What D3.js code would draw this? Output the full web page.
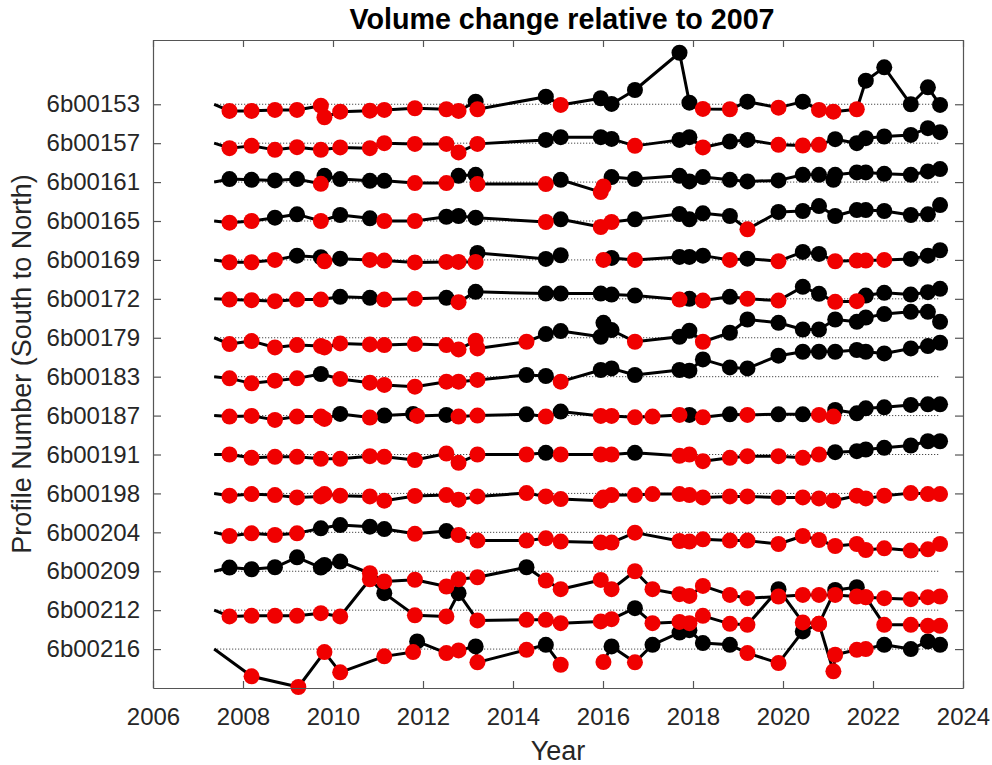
<!DOCTYPE html>
<html><head><meta charset="utf-8">
<script src="https://cdn.jsdelivr.net/npm/d3@7"></script>
<style>
body{margin:0;background:#fff;}
svg{display:block;font-family:"Liberation Sans",Arial,Helvetica,sans-serif;}
</style>
</head><body>
<svg id="chart" width="992" height="765"></svg>
<script>
// ---------------- DATA ----------------
const profiles = ["6b00153","6b00157","6b00161","6b00165","6b00169","6b00172","6b00179",
  "6b00183","6b00187","6b00191","6b00198","6b00204","6b00209","6b00212","6b00216"];
const xTicks = [2006,2008,2010,2012,2014,2016,2018,2020,2022,2024];
const baselineStart = 2007.36, baselineEnd = 2023.45;
const profileSpacing = 39;           // volume units between stacked profiles
// each entry: [year, volume change, marker ("r" red, "k" black, "" none)]; null value = gap
const p153 = [[2007.36,0,""],[2007.70,-6.7,"r"],[2008.19,-6.7,"r"],[2008.71,-5.7,"r"],[2009.20,-5.7,"r"],[2009.73,-1.4,"r"],[2009.81,-13,"r"],[2010.16,-7.4,"r"],[2010.82,-6.4,"r"],[2011.14,-5.7,"r"],[2011.82,-4,"r"],[2012.52,-5,"r"],[2012.79,-6.7,"r"],[2013.17,2.6,"k"],[2013.21,-5,"r"],[2014.73,7.6,"k"],[2015.06,-0.7,"r"],[2015.95,6,"k"],[2016.19,0.3,"k"],[2016.71,14.3,"k"],[2017.70,51.6,"k"],[2017.92,1.6,"k"],[2018.22,-4.7,"r"],[2018.82,-5,"r"],[2019.21,2.6,"k"],[2019.90,-3.4,"r"],[2020.44,2.6,"k"],[2020.80,-5.7,"r"],[2021.12,-7.4,"r"],[2021.64,-5,"r"],[2021.84,23.6,"k"],[2022.25,37,"k"],[2022.84,0,"k"],[2023.22,17,"k"],[2023.49,-0.7,"k"]];
const p157 = [[2007.36,0,""],[2007.70,-5,"r"],[2008.19,-2.7,"r"],[2008.71,-6.7,"r"],[2009.20,-4,"r"],[2009.73,-6.7,"r"],[2010.16,-4.3,"r"],[2010.82,-5,"r"],[2011.14,0,"r"],[2011.82,-0.7,"r"],[2012.52,-0.7,"r"],[2012.79,-9.3,"r"],[2013.21,-0.7,"r"],[2014.73,3.3,"k"],[2015.06,6,"k"],[2015.95,6,"k"],[2016.19,4.3,"k"],[2016.71,-2.7,"r"],[2017.70,3.3,"k"],[2017.92,6,"k"],[2018.22,-4.3,"r"],[2018.82,1.7,"k"],[2019.21,3.3,"k"],[2019.90,-1.7,"r"],[2020.44,-2.3,"r"],[2020.80,-1.7,"r"],[2021.16,4,"k"],[2021.64,0,"k"],[2021.84,5,"k"],[2022.25,6.7,"k"],[2022.84,8.3,"k"],[2023.22,15,"k"],[2023.49,11,"k"]];
const p161 = [[2007.36,0,""],[2007.70,3,"k"],[2008.19,2.3,"k"],[2008.71,1.7,"k"],[2009.20,3,"k"],[2009.73,-1.7,"r"],[2009.81,6.3,"k"],[2010.16,3,"k"],[2010.82,1.3,"k"],[2011.14,1.3,"k"],[2011.82,-1,"r"],[2012.52,-1,"r"],[2012.79,6.3,"k"],[2013.17,7.3,"k"],[2013.21,-2,"r"],[2014.73,-2,"r"],[2015.06,2.3,"k"],[2015.95,-10,"r"],[2016.01,-4.3,"r"],[2016.19,5,"k"],[2016.71,3,"k"],[2017.70,6.3,"k"],[2017.92,0.7,"k"],[2018.22,5,"k"],[2018.82,2.3,"k"],[2019.21,0.7,"k"],[2019.90,1.7,"k"],[2020.44,7.3,"k"],[2020.80,7.3,"k"],[2021.12,2.3,"k"],[2021.16,7.3,"k"],[2021.64,9.7,"k"],[2021.84,9.7,"k"],[2022.25,8.3,"k"],[2022.84,7.3,"k"],[2023.22,10.7,"k"],[2023.49,13,"k"]];
const p165 = [[2007.36,0,""],[2007.70,-1.7,"r"],[2008.19,0,"r"],[2008.71,3.3,"k"],[2009.20,6.7,"k"],[2009.73,0,"r"],[2010.16,6,"k"],[2010.82,2.7,"k"],[2011.14,0,"r"],[2011.82,0,"r"],[2012.52,4.3,"k"],[2012.79,5,"k"],[2013.17,3.3,"k"],[2014.73,-1,"r"],[2015.06,1.7,"k"],[2015.95,-6,"r"],[2016.19,-1,"r"],[2016.71,1.7,"k"],[2017.70,7,"k"],[2017.92,1.7,"k"],[2018.22,7.7,"k"],[2018.82,5,"k"],[2019.21,-8.3,"r"],[2019.90,9,"k"],[2020.44,10,"k"],[2020.80,15,"k"],[2021.16,5,"k"],[2021.64,11,"k"],[2021.84,11,"k"],[2022.25,10,"k"],[2022.84,6,"k"],[2023.22,6.7,"k"],[2023.49,16,"k"]];
const p169 = [[2007.36,0,""],[2007.70,-2.3,"r"],[2008.19,-2.3,"r"],[2008.71,0,"r"],[2009.20,4.3,"k"],[2009.73,2.7,"k"],[2009.81,-1.3,"r"],[2010.16,1.3,"k"],[2010.82,0,"r"],[2011.14,-0.7,"r"],[2011.82,-2.5,"r"],[2012.52,-2,"r"],[2012.79,-2,"r"],[2013.17,-2,"r"],[2013.21,7,"k"],[2014.73,1,"k"],[2015.06,4.7,"k"],[2015.95,null,""],[2016.01,0,"r"],[2016.19,2,"k"],[2016.71,0,"r"],[2017.70,3,"k"],[2017.92,3,"k"],[2018.22,4.3,"k"],[2018.82,0,"r"],[2019.21,1.3,"k"],[2019.90,-1.3,"r"],[2020.44,8,"k"],[2020.80,6,"k"],[2021.16,-1.3,"r"],[2021.64,-0.7,"r"],[2021.84,-0.7,"r"],[2022.25,0,"r"],[2022.84,1,"k"],[2023.22,4.3,"k"],[2023.49,9.7,"k"]];
const p172 = [[2007.36,0,""],[2007.70,-0.7,"r"],[2008.19,-1.3,"r"],[2008.71,-2.3,"r"],[2009.20,-0.7,"r"],[2009.73,-0.7,"r"],[2010.16,2,"k"],[2010.82,1,"k"],[2011.14,-0.7,"r"],[2011.82,0,"r"],[2012.52,1,"k"],[2012.79,-3.3,"r"],[2013.17,7,"k"],[2014.73,5.3,"k"],[2015.06,5.3,"k"],[2015.95,5.3,"k"],[2016.19,4.3,"k"],[2016.71,3.3,"k"],[2017.70,-0.7,"r"],[2017.92,0,"k"],[2018.22,-1.7,"r"],[2018.82,2,"k"],[2019.21,0,"r"],[2019.90,-1.7,"r"],[2020.44,12,"k"],[2020.80,5,"k"],[2021.16,-3,"r"],[2021.64,-2.3,"r"],[2021.84,3.3,"k"],[2022.25,6,"k"],[2022.84,4.3,"k"],[2023.22,6.7,"k"],[2023.49,10,"k"]];
const p179 = [[2007.36,0,""],[2007.70,-6.3,"r"],[2008.19,-3.3,"r"],[2008.71,-9.7,"r"],[2009.20,-7.3,"r"],[2009.73,-8.3,"r"],[2009.81,-9.7,"r"],[2010.16,-5.7,"r"],[2010.82,-6.7,"r"],[2011.14,-7.3,"r"],[2011.82,-6.3,"r"],[2012.52,-7.3,"r"],[2012.79,-11.7,"r"],[2013.17,-3,"r"],[2013.21,-10.7,"r"],[2014.30,-4,"r"],[2014.73,3.7,"k"],[2015.06,6.7,"k"],[2015.95,1,"k"],[2016.01,15,"k"],[2016.19,7.7,"k"],[2016.71,-4,"r"],[2017.70,1,"k"],[2017.92,7,"k"],[2018.22,-4,"r"],[2018.82,5,"k"],[2019.21,18.3,"k"],[2019.90,15,"k"],[2020.44,8.3,"k"],[2020.80,8.3,"k"],[2021.16,18.3,"k"],[2021.64,16,"k"],[2021.84,20.3,"k"],[2022.25,23.7,"k"],[2022.84,26,"k"],[2023.22,26,"k"],[2023.49,16,"k"]];
const p183 = [[2007.36,0,""],[2007.70,-1.7,"r"],[2008.19,-6.7,"r"],[2008.71,-4,"r"],[2009.20,-1.7,"r"],[2009.73,2.7,"k"],[2010.16,-2.3,"r"],[2010.82,-6,"r"],[2011.14,-8.3,"r"],[2011.82,-10,"r"],[2012.52,-5,"r"],[2012.79,-5,"r"],[2013.21,-3.3,"r"],[2014.30,1.7,"k"],[2014.73,0.7,"k"],[2015.06,-5,"r"],[2015.95,6.7,"k"],[2016.19,8.3,"k"],[2016.71,1.7,"k"],[2017.70,6.7,"k"],[2017.92,6,"k"],[2018.22,17.3,"k"],[2018.82,9.3,"k"],[2019.21,8.3,"k"],[2019.90,21,"k"],[2020.44,25,"k"],[2020.80,25,"k"],[2021.16,25,"k"],[2021.64,26.7,"k"],[2021.84,25,"k"],[2022.25,23.3,"k"],[2022.84,28.3,"k"],[2023.22,30.7,"k"],[2023.49,34,"k"]];
const p187 = [[2007.36,0,""],[2007.70,-1,"r"],[2008.19,-0.3,"r"],[2008.71,-4.3,"r"],[2009.20,-1,"r"],[2009.73,-1,"r"],[2009.81,-3.3,"r"],[2010.16,1.7,"k"],[2010.82,-2,"r"],[2011.14,0,"k"],[2011.78,1.7,"k"],[2011.87,-0.3,"r"],[2012.52,0.7,"k"],[2012.79,-1,"r"],[2013.21,0,"r"],[2014.30,1.3,"k"],[2014.73,-1,"r"],[2015.06,4,"k"],[2015.95,-0.3,"r"],[2016.19,-0.3,"r"],[2016.71,-1.7,"r"],[2017.10,-1,"r"],[2017.70,0.7,"r"],[2017.92,0.7,"k"],[2018.22,-1.7,"r"],[2018.82,1.3,"k"],[2019.21,0.7,"r"],[2019.90,1.3,"k"],[2020.44,1.3,"k"],[2020.80,0.7,"r"],[2021.12,-1,"r"],[2021.16,5.7,"k"],[2021.64,2.3,"k"],[2021.84,7.3,"k"],[2022.25,8.3,"k"],[2022.84,10.7,"k"],[2023.22,11.3,"k"],[2023.49,11.3,"k"]];
const p191 = [[2007.36,0,""],[2007.70,0,"r"],[2008.19,-3.3,"r"],[2008.71,-2.3,"r"],[2009.20,-2.3,"r"],[2009.73,-4.3,"r"],[2010.16,-4.3,"r"],[2010.82,-1.7,"r"],[2011.14,-2.3,"r"],[2011.82,-5.5,"r"],[2012.52,1,"r"],[2012.79,-8.3,"r"],[2013.21,0,"r"],[2014.30,0,"r"],[2014.73,1.7,"k"],[2015.06,0,"r"],[2015.95,0,"r"],[2016.19,0,"r"],[2016.71,1.7,"k"],[2017.70,-1.3,"r"],[2017.92,0,"r"],[2018.22,-6.7,"r"],[2018.82,-3.3,"r"],[2019.21,-1.7,"r"],[2019.90,-1.7,"r"],[2020.44,-3.3,"r"],[2020.80,0,"r"],[2021.16,2.3,"k"],[2021.64,3.3,"k"],[2021.84,5,"k"],[2022.25,6.7,"k"],[2022.84,9,"k"],[2023.22,13.3,"k"],[2023.49,13.3,"k"]];
const p198 = [[2007.36,0,""],[2007.70,-2.3,"r"],[2008.19,-0.7,"r"],[2008.71,-1.7,"r"],[2009.20,-4,"r"],[2009.73,-3,"r"],[2009.81,-0.7,"r"],[2010.16,-2.3,"r"],[2010.82,-3,"r"],[2011.14,-7.3,"r"],[2011.82,-2.5,"r"],[2012.52,-1.7,"r"],[2012.79,-6.3,"r"],[2013.21,-3,"r"],[2014.30,0.3,"r"],[2014.73,-3,"r"],[2015.06,-5.7,"r"],[2015.95,-7.3,"r"],[2016.01,-4,"r"],[2016.19,-1.7,"r"],[2016.71,-1.7,"r"],[2017.10,-0.7,"r"],[2017.70,-0.7,"r"],[2017.92,-1.7,"r"],[2018.22,-4,"r"],[2018.82,-3,"r"],[2019.21,-3,"r"],[2019.90,-4,"r"],[2020.44,-4,"r"],[2020.80,-5,"r"],[2021.12,-7.3,"r"],[2021.64,-2.3,"r"],[2021.84,-5,"r"],[2022.25,-2.3,"r"],[2022.84,0.3,"r"],[2023.22,-0.7,"r"],[2023.49,-0.7,"r"]];
const p204 = [[2007.36,0,""],[2007.70,-3.7,"r"],[2008.19,-1,"r"],[2008.71,-2.7,"r"],[2009.20,-1,"r"],[2009.73,4,"k"],[2010.16,7.3,"k"],[2010.82,5.7,"k"],[2011.14,3.3,"k"],[2011.82,-1.5,"r"],[2012.52,1.3,"k"],[2012.79,-2.7,"r"],[2013.21,-8.3,"r"],[2014.30,-8.3,"r"],[2014.73,-6,"r"],[2015.06,-9.3,"r"],[2015.95,-10.3,"r"],[2016.19,-10.3,"r"],[2016.71,-0.3,"r"],[2017.70,-8.7,"r"],[2017.92,-9.3,"r"],[2018.22,-7,"r"],[2018.82,-8.3,"r"],[2019.21,-8.3,"r"],[2019.90,-11.7,"r"],[2020.44,-3.7,"r"],[2020.80,-7.7,"r"],[2021.16,-13.7,"r"],[2021.64,-11.7,"r"],[2021.84,-17.7,"r"],[2022.25,-16,"r"],[2022.84,-18.3,"r"],[2023.22,-17,"r"],[2023.49,-11.7,"r"]];
const p209 = [[2007.36,0,""],[2007.70,3.7,"k"],[2008.19,2,"k"],[2008.71,4,"k"],[2009.20,14,"k"],[2009.73,3.7,"k"],[2009.81,6.3,"k"],[2010.16,9.7,"k"],[2010.82,-2,"r"],[2011.14,-10.3,"r"],[2011.82,-8.5,"r"],[2012.52,-15.3,"r"],[2012.79,-8,"r"],[2013.21,-6,"r"],[2014.30,4,"k"],[2014.73,-9.3,"r"],[2015.06,-18,"r"],[2015.95,-8.7,"r"],[2016.19,-18,"r"],[2016.71,0,"r"],[2017.10,-18,"r"],[2017.70,-23,"r"],[2017.92,-24.7,"r"],[2018.22,-14.7,"r"],[2018.82,-23.7,"r"],[2019.21,-27,"r"],[2019.90,-25.3,"r"],[2020.44,-23.7,"r"],[2020.80,-23.7,"r"],[2021.16,-23.7,"r"],[2021.64,-25.3,"r"],[2021.84,-26,"r"],[2022.25,-27,"r"],[2022.84,-28,"r"],[2023.22,-26,"r"],[2023.49,-25.3,"r"]];
const p212 = [[2007.36,0,""],[2007.70,-6.3,"r"],[2008.19,-5.7,"r"],[2008.71,-5.7,"r"],[2009.20,-5.7,"r"],[2009.73,-3,"r"],[2010.16,-6.3,"r"],[2010.82,31,"r"],[2011.14,17,"k"],[2011.82,-5.2,"r"],[2012.52,-6.3,"r"],[2012.79,17,"k"],[2013.21,-10.3,"r"],[2014.30,-9.7,"r"],[2014.73,-9.7,"r"],[2015.06,-13,"r"],[2015.95,-11.3,"r"],[2016.19,-9,"r"],[2016.71,2,"k"],[2017.10,-13,"r"],[2017.70,-11.8,"r"],[2017.92,-13,"r"],[2018.22,-5.7,"r"],[2018.82,-13.7,"r"],[2019.21,-14.7,"r"],[2019.90,21,"k"],[2020.44,-12.3,"r"],[2020.80,-13.7,"r"],[2021.16,20.3,"k"],[2021.64,23,"k"],[2021.84,13,"r"],[2022.25,-14.7,"r"],[2022.84,-14.7,"r"],[2023.22,-15.7,"r"],[2023.49,-15.7,"r"]];
const p216 = [[2007.36,0,""],[2008.19,-27.3,"r"],[2009.23,-38,"r"],[2009.81,-3,"r"],[2010.16,-23.3,"r"],[2011.14,-7.3,"r"],[2011.78,-3,"r"],[2011.87,7.7,"k"],[2012.52,-4,"r"],[2012.79,-1.3,"r"],[2013.17,2.7,"k"],[2013.21,-13.3,"r"],[2014.30,-0.7,"r"],[2014.73,4.3,"k"],[2015.06,-15.7,"r"],[2015.95,null,""],[2016.01,-13,"r"],[2016.19,2.7,"k"],[2016.71,-13.3,"r"],[2017.10,4.3,"k"],[2017.70,16.5,"k"],[2017.92,19,"k"],[2018.22,6,"k"],[2018.82,4.3,"k"],[2019.21,-4,"r"],[2019.90,-14,"r"],[2020.44,17.7,"k"],[2020.80,25.3,"r"],[2021.12,-22.3,"r"],[2021.16,-5.7,"r"],[2021.64,-0.7,"r"],[2021.84,0,"r"],[2022.25,4.3,"k"],[2022.84,0,"k"],[2023.22,7.7,"k"],[2023.49,4.3,"k"]];
const series = [p153,p157,p161,p165,p169,p172,p179,p183,p187,p191,p198,p204,p209,p212,p216];

// ---------------- CHART ----------------
const svg = d3.select("#chart");
const L = 153, R = 963, T = 40, B = 688;
const n = profiles.length;
const base = i => (n - 1 - i) * profileSpacing;
const x = d3.scaleLinear().domain([2006, 2024]).range([L, R]);
const y = d3.scaleLinear().domain([-profileSpacing, (n - 1) * profileSpacing + 64.4]).range([B, T]);
const textCol = "#262626", axisCol = "#555";
const RED = "#f00000";

// baselines
const gBase = svg.append("g");
profiles.forEach((p, i) => {
  gBase.append("line")
    .attr("x1", x(baselineStart)).attr("x2", x(baselineEnd))
    .attr("y1", y(base(i))).attr("y2", y(base(i)))
    .attr("stroke", "#222").attr("stroke-width", 1).attr("stroke-dasharray", "1,2");
});

// lines
const gLines = svg.append("g");
series.forEach((s, i) => {
  const line = d3.line().defined(d => d[1] !== null)
    .x(d => x(d[0])).y(d => y(base(i) + d[1]));
  gLines.append("path").attr("d", line(s)).attr("fill", "none")
    .attr("stroke", "#000").attr("stroke-width", 3).attr("stroke-linejoin", "round");
});

// markers: black then red
["k", "r"].forEach(c => {
  const g = svg.append("g");
  series.forEach((s, i) => {
    g.selectAll(null).data(s.filter(d => d[2] === c && d[1] !== null)).enter()
      .append("circle").attr("cx", d => x(d[0])).attr("cy", d => y(base(i) + d[1]))
      .attr("r", 8).attr("fill", c === "k" ? "#000" : RED);
  });
});

// axes
function styleAxis(g) {
  g.select(".domain").attr("stroke", axisCol).attr("stroke-width", 1.2);
  g.selectAll(".tick line").attr("stroke", axisCol).attr("stroke-width", 1.2);
  g.selectAll("text").attr("fill", textCol).attr("font-size", 24)
    .attr("font-family", '"Liberation Sans",Arial,sans-serif');
}
svg.append("g").attr("transform", `translate(0,${B})`)
  .call(d3.axisBottom(x).tickValues(xTicks).tickFormat(d3.format("d")).tickSizeInner(-7).tickSizeOuter(0).tickPadding(20))
  .call(styleAxis);
svg.append("g").attr("transform", `translate(0,${T})`)
  .call(d3.axisTop(x).tickValues(xTicks).tickFormat("").tickSizeInner(-7).tickSizeOuter(0))
  .call(styleAxis);
const yTickVals = profiles.map((p, i) => base(i));
svg.append("g").attr("transform", `translate(${L},0)`)
  .call(d3.axisLeft(y).tickValues(yTickVals).tickFormat((d, j) => profiles[j]).tickSizeInner(-8).tickSizeOuter(0).tickPadding(13))
  .call(styleAxis);
svg.append("g").attr("transform", `translate(${R},0)`)
  .call(d3.axisRight(y).tickValues(yTickVals).tickFormat("").tickSizeInner(-8).tickSizeOuter(0))
  .call(styleAxis);

// texts
svg.append("text").attr("x", (L + R) / 2 + 4).attr("y", 29).attr("text-anchor", "middle")
  .attr("font-size", 28.7).attr("font-weight", "bold").attr("fill", "#000")
  .text("Volume change relative to 2007");
svg.append("text").attr("x", (L + R) / 2).attr("y", 760).attr("text-anchor", "middle")
  .attr("font-size", 27).attr("fill", textCol).text("Year");
svg.append("text").attr("transform", `translate(31,${(T + B) / 2}) rotate(-90)`)
  .attr("text-anchor", "middle").attr("font-size", 27).attr("fill", textCol)
  .text("Profile Number (South to North)");
</script>
</body></html>
